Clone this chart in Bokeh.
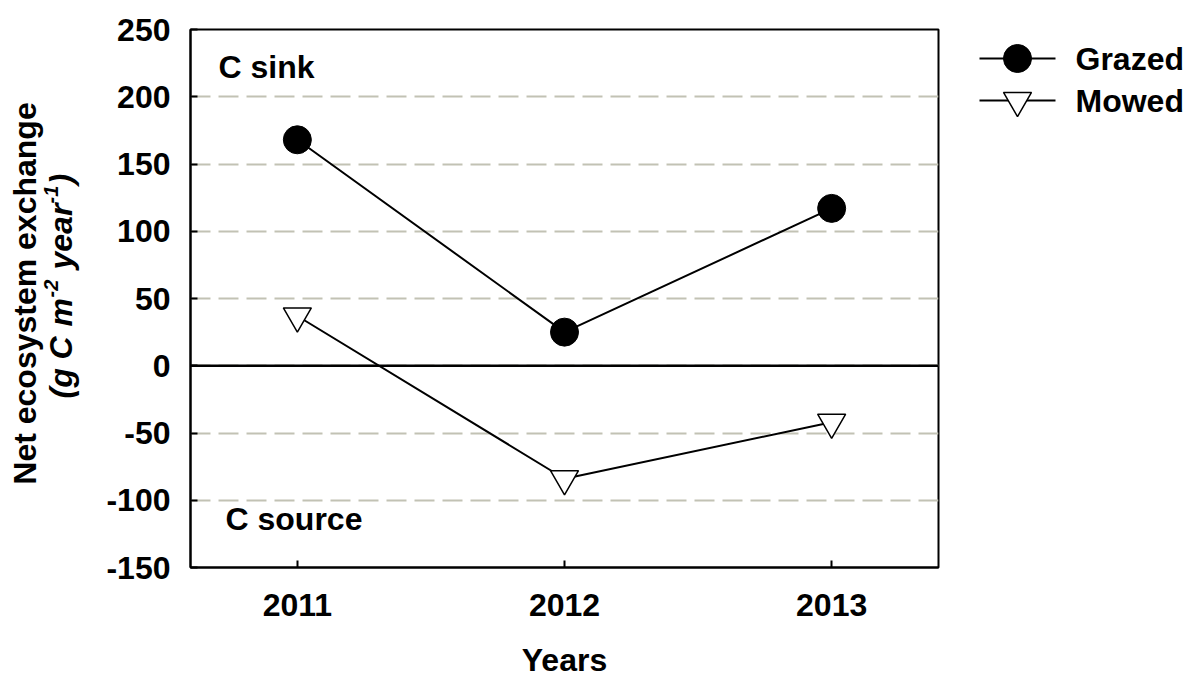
import math
from bokeh.plotting import figure
from bokeh.layouts import row, column
from bokeh.models import Range1d, FixedTicker, Span, Label
from bokeh.core.properties import value
from bokeh.embed import file_html
from bokeh.resources import INLINE

# Annual net ecosystem exchange (g C m-2 year-1)
years = [2011, 2012, 2013]
grazed = [168, 25, 117]
mowed = [37, -84, -42]
y_ticks = [-150, -100, -50, 0, 50, 100, 150, 200, 250]
x_ticks = [2011, 2012, 2013]
series_names = ["Grazed", "Mowed"]

FONT = "Liberation Sans"
FS = "32px"
W = 1198
H = 640          # height of the upper row (chart + side strips)
H_BOTTOM = 37    # strip holding the x-axis title
TOP, BOTTOM = 29, 73   # borders above / below the plotting frame
LEFT_W = 95
RIGHT_W = 258
MAIN_W = W - LEFT_W - RIGHT_W


def strip(width, height, top=0, bottom=0):
    # plain drawing area whose y data value equals (height - pixel row)
    f = figure(width=width, height=height, output_backend="svg",
               toolbar_location=None, x_axis_location=None, y_axis_location=None,
               x_range=Range1d(0, width), y_range=Range1d(bottom, height - top),
               min_border_left=0, min_border_right=0,
               min_border_top=top, min_border_bottom=bottom,
               outline_line_color=None)
    f.grid.grid_line_color = None
    return f


# ---------------- main chart ----------------
p = figure(width=MAIN_W, height=H, output_backend="svg", toolbar_location=None,
           x_range=Range1d(2010.6, 2013.4), y_range=Range1d(-150, 250),
           min_border_left=95, min_border_right=2,
           min_border_top=TOP, min_border_bottom=BOTTOM)
p.outline_line_color = "black"
p.outline_line_width = 2

p.xaxis.ticker = FixedTicker(ticks=x_ticks)
p.yaxis.ticker = FixedTicker(ticks=y_ticks)
p.yaxis.major_label_overrides = {t: str(t) for t in y_ticks}
for ax in (p.xaxis[0], p.yaxis[0]):
    ax.axis_line_color = "black"
    ax.axis_line_width = 2
    ax.major_tick_in = 7
    ax.major_tick_out = 0
    ax.major_tick_line_width = 2
    ax.minor_tick_line_color = None
    ax.major_label_text_font = FONT
    ax.major_label_text_font_size = FS
    ax.major_label_text_font_style = "bold"
    ax.major_label_text_color = "black"
p.yaxis.major_label_standoff = 20
p.xaxis.major_label_standoff = 26

p.xgrid.grid_line_color = None
p.ygrid.grid_line_color = "#c2c2b4"
p.ygrid.grid_line_width = 2
p.ygrid.grid_line_dash = "20 8"

p.add_layout(Span(location=0, dimension="width", line_color="black", line_width=2.5))

p.line(years, grazed, line_color="black", line_width=2)
p.scatter(years, grazed, marker="circle", size=28, fill_color="black",
          line_color="black")
p.line(years, mowed, line_color="black", line_width=2)
p.scatter(years, mowed, marker="inverted_triangle", size=28,
          fill_color="white", line_color="black", line_width=1.5)

p.add_layout(Label(x=2010.705, y=222, text="C sink", text_font=FONT,
                   text_font_size=FS, text_font_style="bold",
                   text_color="black", text_baseline="middle"))
p.add_layout(Label(x=2010.731, y=-114, text="C source", text_font=FONT,
                   text_font_size=FS, text_font_style="bold",
                   text_color="black", text_baseline="middle"))

# ---------------- y-axis title (left strip) ----------------
t = strip(LEFT_W, H, TOP, BOTTOM)
ang = math.pi / 2
t.text(x=[24], y=[H - 293], text=["Net ecosystem exchange"], angle=ang,
       text_font=value(FONT), text_font_size=FS, text_font_style="bold",
       text_color="black", text_align="center", text_baseline="middle")

# unit line: (text, font px, advance in px, superscript)
unit_parts = [
    ("(g C", 32, 72, False),
    ("m", 32, 29, False),
    ("-2", 20, 28, True),
    ("year", 32, 66, False),
    ("-1", 20, 19, True),
    (")", 32, 11, False),
]
ypos = H - 398
for txt, size, adv, sup in unit_parts:
    t.text(x=[50 if sup else 60], y=[ypos], text=[txt], angle=ang,
           text_font=value(FONT), text_font_size=f"{size}px",
           text_font_style="bold italic", text_color="black",
           text_align="left", text_baseline="middle")
    ypos += adv

# ---------------- legend (right strip) ----------------
lg = strip(RIGHT_W, H, TOP, BOTTOM)
legend_y = [H - 58, H - 100]
lg.segment(x0=[39, 39], y0=legend_y, x1=[115, 115], y1=legend_y,
           line_color="black", line_width=2)
lg.scatter(x=[77], y=[legend_y[0]], marker="circle", size=28,
           fill_color="black", line_color="black")
lg.scatter(x=[77], y=[legend_y[1]], marker="inverted_triangle", size=28,
           fill_color="white", line_color="black", line_width=1.5)
lg.text(x=[135, 135], y=legend_y, text=series_names, text_font=value(FONT),
        text_font_size=FS, text_font_style="bold", text_color="black",
        text_align="left", text_baseline="middle")

# ---------------- x-axis title (bottom strip) ----------------
b = strip(W, H_BOTTOM)
b.text(x=[564], y=[H_BOTTOM - 19], text=["Years"], text_font=value(FONT),
       text_font_size=FS, text_font_style="bold", text_color="black",
       text_align="center", text_baseline="middle")

layout = column(row(t, p, lg, spacing=0), b, spacing=0)
open("out.html", "w").write(file_html(layout, INLINE))
